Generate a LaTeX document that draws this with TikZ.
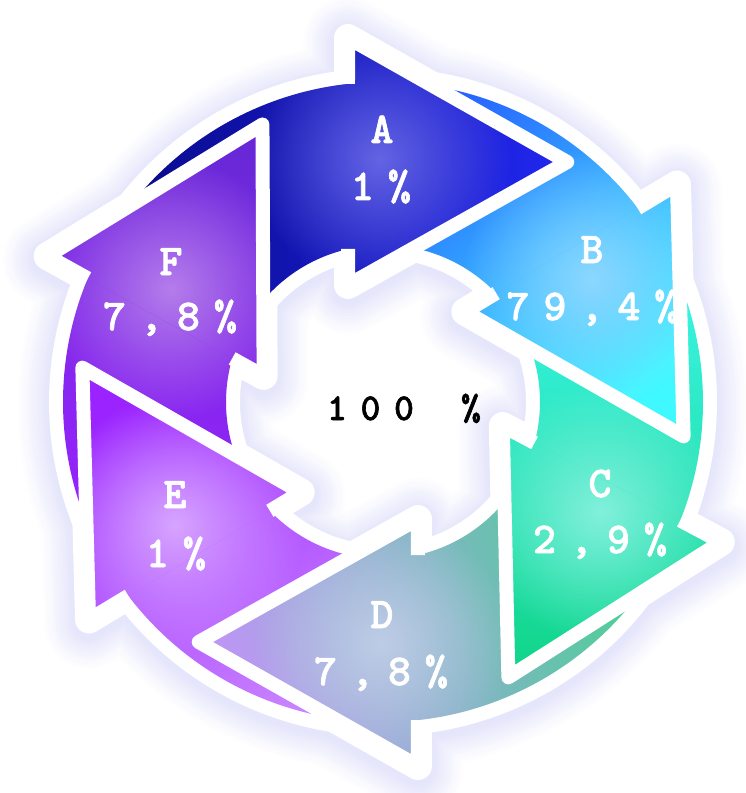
\documentclass[tikz,border=0pt]{standalone}
\usepackage{fontspec}
\newfontfamily\lblfont{lmmonolt10-bold}[Extension=.otf, FakeBold=1.5]
\usetikzlibrary{fadings}

\definecolor{haloc}{RGB}{150,150,240}
\definecolor{aone}{RGB}{8,8,135}
\definecolor{atwo}{RGB}{34,40,240}
\definecolor{aglow}{RGB}{100,100,228}
\definecolor{bone}{RGB}{40,100,255}
\definecolor{btwo}{RGB}{64,248,255}
\definecolor{bglow}{RGB}{140,215,255}
\definecolor{cone}{RGB}{64,248,240}
\definecolor{ctwo}{RGB}{16,212,136}
\definecolor{cglow}{RGB}{130,240,220}
\definecolor{done}{RGB}{75,208,150}
\definecolor{dtwo}{RGB}{190,150,245}
\definecolor{dglow}{RGB}{190,205,230}
\definecolor{eone}{RGB}{155,35,255}
\definecolor{etwo}{RGB}{200,130,255}
\definecolor{eglow}{RGB}{215,165,255}
\definecolor{fone}{RGB}{105,40,215}
\definecolor{ftwo}{RGB}{155,35,255}
\definecolor{fglow}{RGB}{180,125,235}

\tikzfading[name=glowfade, inner color=transparent!0, outer color=transparent!100]

% one arrow of the ring, turned by #1 degrees
\newcommand{\arrowshape}[1]{({#1+150}:320) arc[start angle={#1+150}, end angle={#1+96.28}, radius=320] -- ({#1+95.49}:365.7) -- ({#1+52.48}:302.6) -- ({#1+106.64}:122.2) -- ({#1+102.88}:157) arc[start angle={#1+102.88}, end angle={#1+150}, radius=157] -- cycle}
\newcommand{\arrowhead}[1]{({#1+95.49}:365.7) -- ({#1+52.48}:302.6) -- ({#1+106.64}:122.2) -- cycle}
\newcommand{\headline}[1]{({#1+96.28}:320) -- ({#1+95.49}:365.7) -- ({#1+52.48}:302.6) -- ({#1+106.64}:122.2) -- ({#1+102.88}:157)}

% wide-set characters, one box of \pitch each
\newlength{\pitch}
\newcommand{\gapped}[1]{\gappedloop#1\relax}
\newcommand{\gappedloop}[1]{\ifx\relax#1\else\makebox[\pitch]{#1}\expandafter\gappedloop\fi}

\begin{document}
\begin{tikzpicture}[x=1pt,y=1pt,
grad/.style n args={3}{top color=#1, bottom color=#2, shading angle=#3},
rim/.style={draw=white, line width=14pt, line join=round},
lbl/.style={text=white, font=\lblfont\fontsize{44}{44}\selectfont\setlength{\pitch}{37pt}, anchor=base, inner sep=0pt},
mid/.style={text=black, font=\lblfont\fontsize{38}{38}\selectfont\setlength{\pitch}{33.5pt}, anchor=base, inner sep=0pt}
]
\useasboundingbox (-383,-391) rectangle (363,402);

% soft halo
\foreach \k in {0,...,10}{
  \pgfmathtruncatemacro\w{90-6*\k}
  \pgfmathtruncatemacro\m{2+2.4*\k}
  \foreach \a in {0,-59,-118,-180,-239,-299}
    \draw[draw=haloc!\m!white, line width=\w pt, line join=round, yshift=-4pt] \arrowshape{\a};
}
\foreach \a in {0,-59,-118,-180,-239,-299}
  \filldraw[white, line width=28pt, line join=round] \arrowshape{\a};

% bodies
\foreach \a/\ca/\cb/\ang/\cg/\gx/\gy in {0/aone/atwo/90/aglow/-3/243, -59/bone/btwo/40/bglow/209/123, -118/cone/ctwo/0/cglow/217/-110, -180/done/dtwo/-70/dglow/-2/-241, -239/eone/etwo/30/eglow/-208/-123, -299/fone/ftwo/-10/fglow/-212/113}{
  \shade[grad={\ca}{\cb}{\ang}] \arrowshape{\a};
  \begin{scope}
    \clip \arrowshape{\a};
    \fill[\cg, path fading=glowfade] (\gx,\gy) circle (130);
  \end{scope}
}

% heads on top
\foreach \a/\ca/\cb/\ang/\cg/\gx/\gy in {0/aone/atwo/90/aglow/-3/243, -59/bone/btwo/40/bglow/209/123, -118/cone/ctwo/0/cglow/217/-110, -180/done/dtwo/-70/dglow/-2/-241, -239/eone/etwo/30/eglow/-208/-123, -299/fone/ftwo/-10/fglow/-212/113}{
  \begin{scope}
    \clip \arrowhead{\a};
    \shade[grad={\ca}{\cb}{\ang}] \arrowshape{\a};
    \fill[\cg, path fading=glowfade] (\gx,\gy) circle (130);
  \end{scope}
  \draw[rim] \headline{\a};
}

\node[lbl] (la) at (-1,259) {\gapped{A}};
\node[lbl] (va) at (-2,202) {\gapped{1\%}};
\node[lbl] (lb) at (209,139) {\gapped{B}};
\node[lbl] (vb) at (209,82) {\gapped{79,4\%}};
\node[lbl] (lc) at (217,-95) {\gapped{C}};
\node[lbl] (vc) at (217,-151) {\gapped{2,9\%}};
\node[lbl] (ld) at (-1,-226) {\gapped{D}};
\node[lbl] (vd) at (-2,-283) {\gapped{7,8\%}};
\node[lbl] (le) at (-208,-106) {\gapped{E}};
\node[lbl] (ve) at (-207,-165) {\gapped{1\%}};
\node[lbl] (lf) at (-212,127) {\gapped{F}};
\node[lbl] (vf) at (-213,72) {\gapped{7,8\%}};

\node[mid] (total) at (21,-18) {\gapped{100\ \%}};
\end{tikzpicture}
\end{document}
